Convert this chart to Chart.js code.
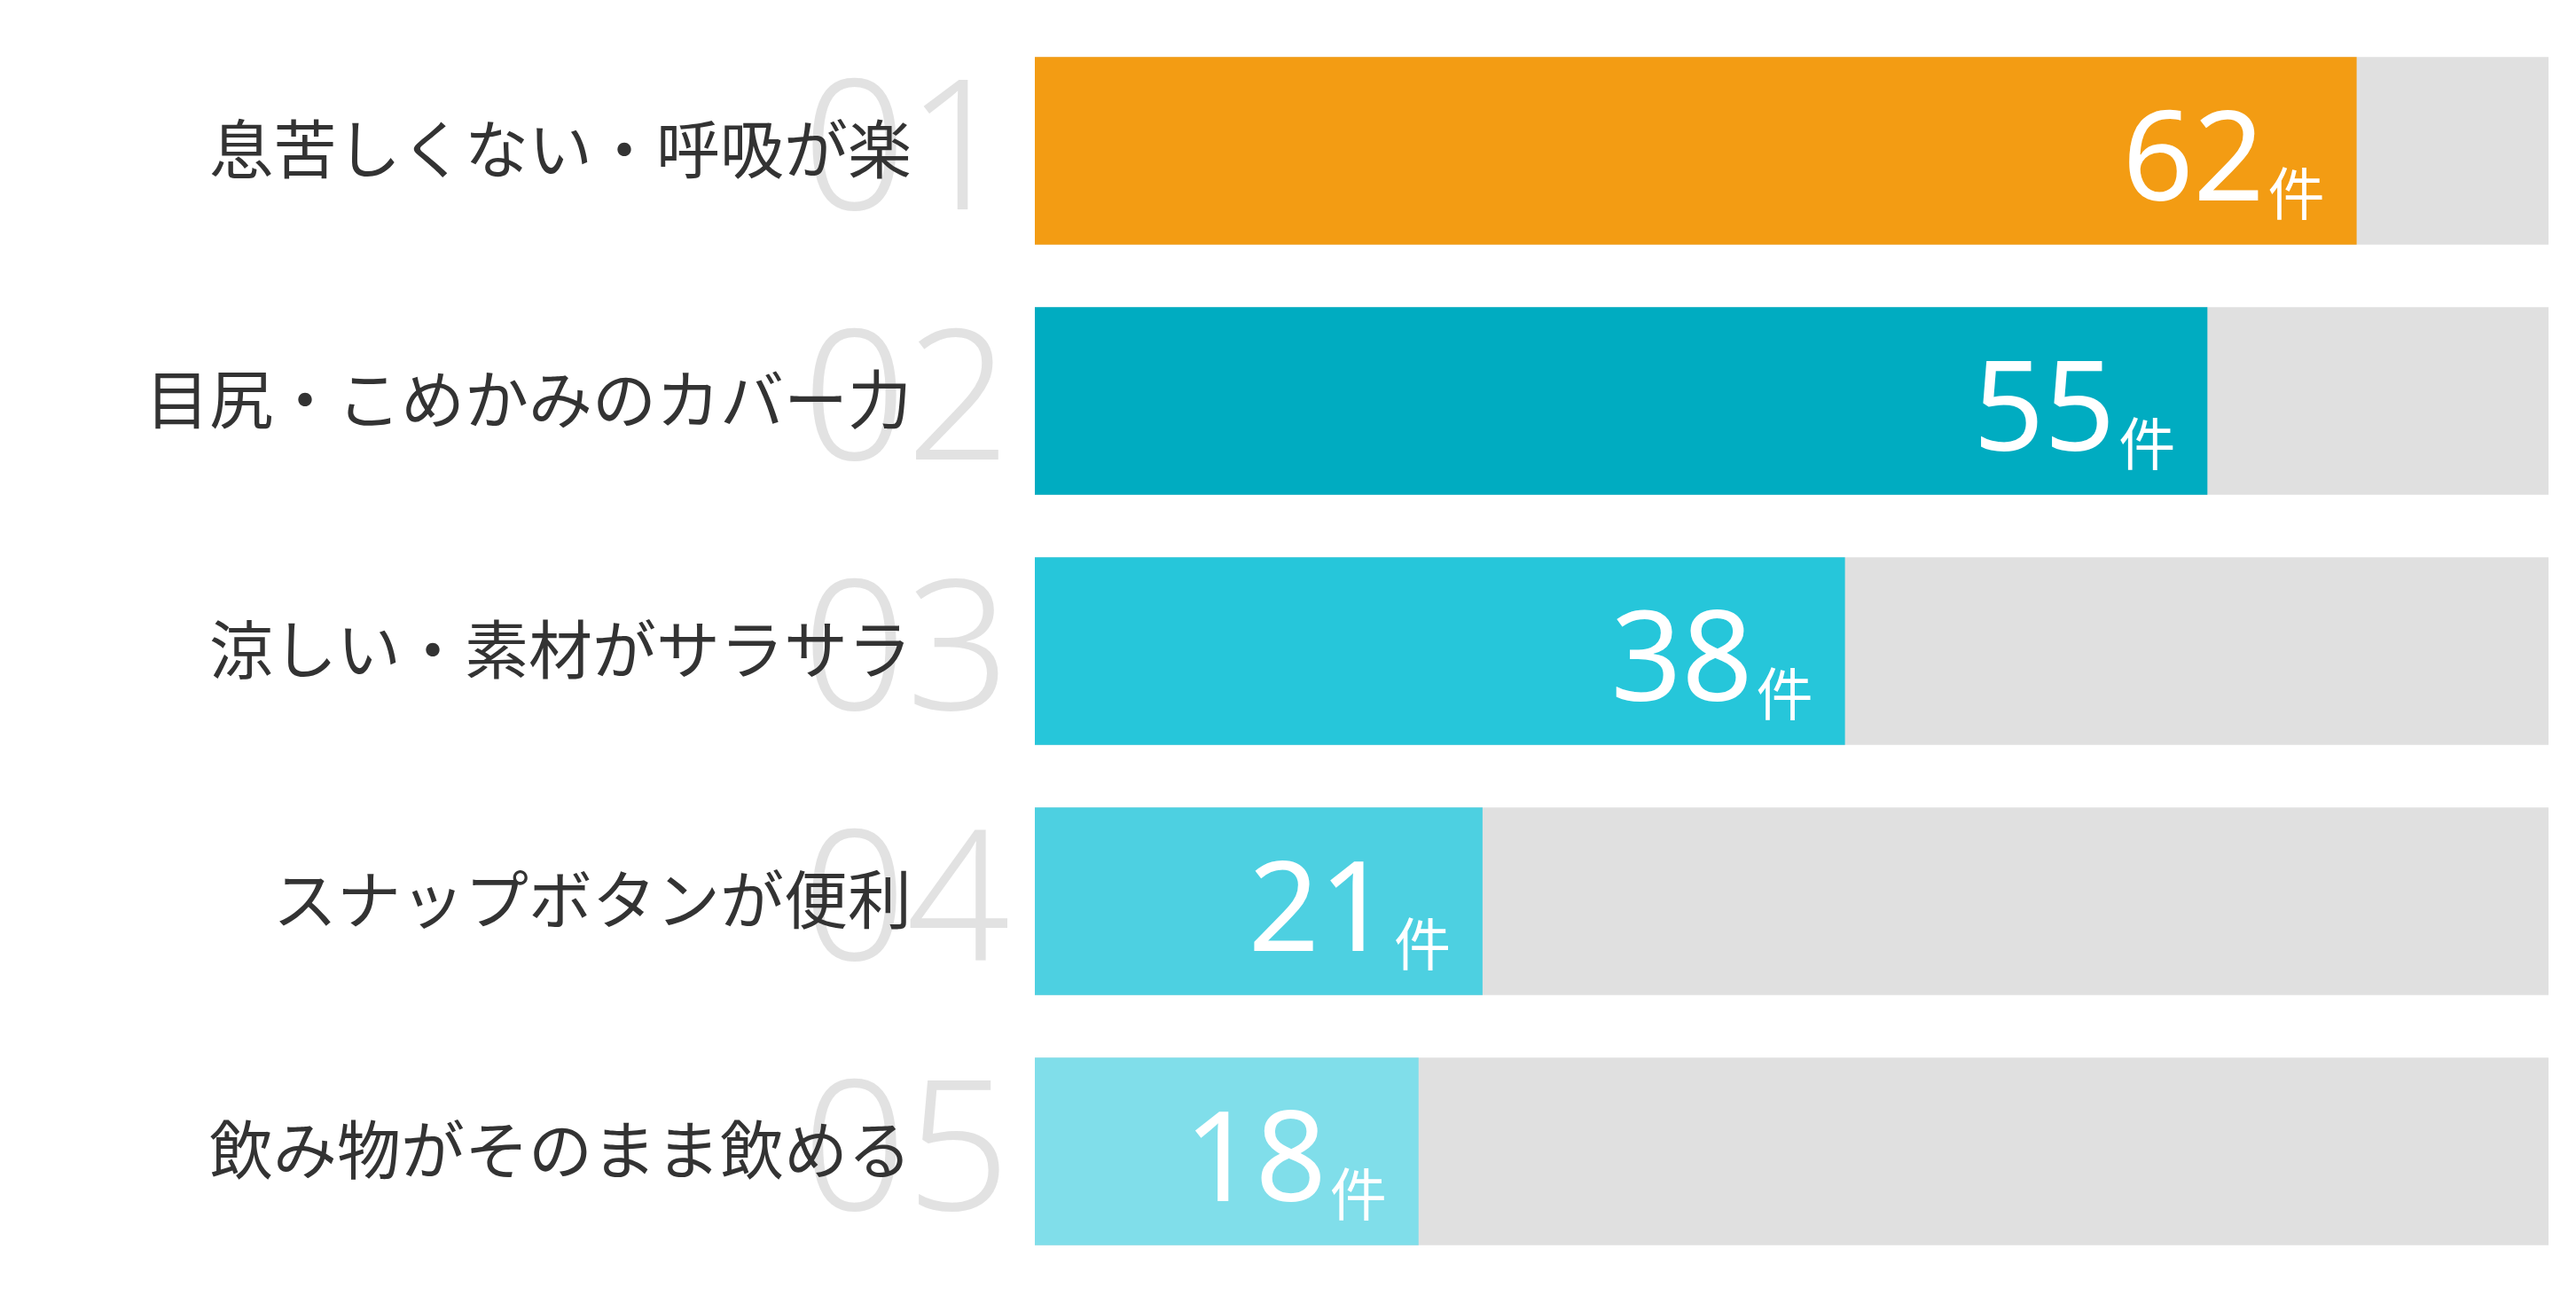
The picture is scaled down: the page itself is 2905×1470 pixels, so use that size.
<!DOCTYPE html>
<html><head><meta charset="utf-8">
<script src="https://cdn.jsdelivr.net/npm/chart.js@4"></script>
<style>html,body{margin:0;padding:0;background:#fff}#w{width:2905px;height:1470px}</style>
</head><body><div id="w"><canvas id="c"></canvas></div>
<script>
const categories = ["息苦しくない・呼吸が楽","目尻・こめかみのカバー力","涼しい・素材がサラサラ","スナップボタンが便利","飲み物がそのまま飲める"];
const ranks = ["01","02","03","04","05"];
const values = [62,55,38,21,18];
const trackMax = 71;
const colors = ["#f39c13","#00acc1","#26c6da","#4dd0e1","#80deea"];
const unit = "件";

const labelPlugin = {
  id:'lbl',
  beforeDatasetsDraw(chart){
    const ctx=chart.ctx, y=chart.scales.y;
    ctx.save();
    categories.forEach((c,i)=>{
      const cy=y.getPixelForValue(i);
      ctx.fillStyle="#e2e2e2";
      ctx.font='300 205px "Noto Sans"';
      ctx.textAlign="left";ctx.textBaseline="middle";
      ctx.fillText(ranks[i],905,cy+8);
      ctx.fillStyle="#333";
      ctx.font='400 72px "Noto Sans CJK JP"';
      ctx.textAlign="right";
      ctx.fillText(c,1028,cy-2);
    });
    ctx.restore();
  },
  afterDatasetsDraw(chart){
    const ctx=chart.ctx, x=chart.scales.x, y=chart.scales.y;
    ctx.save();
    ctx.fillStyle="#fff";ctx.textBaseline="alphabetic";
    values.forEach((v,i)=>{
      const cy=y.getPixelForValue(i), xe=x.getPixelForValue(v);
      ctx.font='400 64px "Noto Sans CJK JP"';ctx.textAlign="right";
      const uw=ctx.measureText(unit).width;
      ctx.fillText(unit,xe-36,cy+72);
      ctx.font='400 140px "Noto Sans"';
      ctx.fillText(String(v),xe-36-uw-4,cy+56);
    });
    ctx.restore();
  }
};

new Chart(document.getElementById('c'),{
  type:'bar',
  data:{labels:categories,datasets:[
    {data:values,backgroundColor:colors,categoryPercentage:1,barPercentage:0.75,order:0},
    {data:categories.map(()=>trackMax),backgroundColor:"#e0e0e0",categoryPercentage:1,barPercentage:0.75,order:1}
  ]},
  options:{indexAxis:'y',responsive:true,maintainAspectRatio:false,animation:false,
    layout:{padding:{left:1167,right:31,top:29,bottom:31}},
    plugins:{legend:{display:false},tooltip:{enabled:false}},
    scales:{
      x:{min:0,max:trackMax,display:false},
      y:{stacked:true,display:false,grid:{display:false}}
    }},
  plugins:[labelPlugin]
});
</script></body></html>
